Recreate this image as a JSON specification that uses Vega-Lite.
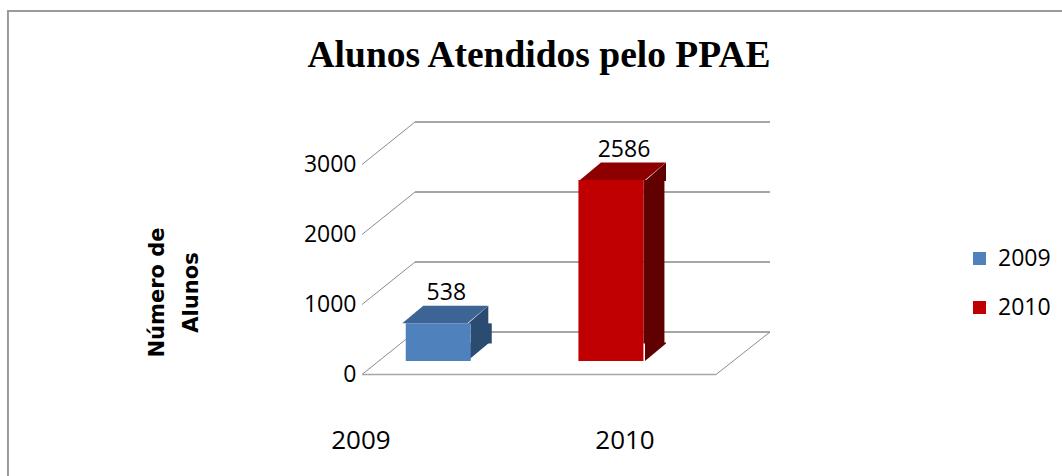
{
  "$schema": "https://vega.github.io/schema/vega-lite/v6.json",
  "width": 354,
  "height": 210,
  "autosize": {"type": "none"},
  "padding": {"left": 380, "top": 151, "right": 328, "bottom": 115},
  "background": "white",
  "config": {"view": {"stroke": null}, "font": "Open Sans"},
  "title": {
    "text": "Alunos Atendidos pelo PPAE",
    "font": "Liberation Serif",
    "fontSize": 37.5,
    "fontWeight": "bold",
    "color": "black",
    "anchor": "middle",
    "dx": -18,
    "baseline": "alphabetic",
    "offset": -94.4
  },
  "datasets": {
    "students": [{"year": 2009, "alunos": 538}, {"year": 2010, "alunos": 2586}],
    "grid": [{"level": 0}, {"level": 1000}, {"level": 2000}, {"level": 3000}],
    "one": [{}]
  },
  "resolve": {"scale": {"x": "independent", "color": "independent"}},
  "layer": [
    {
      "data": {"name": "grid"},
      "mark": {"type": "rule", "stroke": "#a6a6a6", "strokeWidth": 2, "xOffset": 35, "x2Offset": 36, "yOffset": -29},
      "encoding": {
        "x": {"datum": 2008.6916, "type": "quantitative", "scale": {"domain": [2008.6916, 2010.6837], "nice": false, "zero": false}, "axis": null},
        "x2": {"datum": 2010.6837},
        "y": {
          "field": "level",
          "type": "quantitative",
          "scale": {"domain": [0, 3000], "nice": false},
          "axis": {
            "title": ["Número de", "Alunos"],
            "titleFont": "DejaVu Sans",
            "titleFontSize": 21,
            "titleFontWeight": "bold",
            "titleColor": "black",
            "titleAngle": -90,
            "titleAlign": "center",
            "titleBaseline": "middle",
            "titleLineHeight": 34,
            "titleX": -223,
            "titleY": 141,
            "values": [0, 1000, 2000, 3000],
            "format": "d",
            "domain": false,
            "ticks": false,
            "grid": false,
            "labelFont": "Open Sans",
            "labelFontSize": 23,
            "labelColor": "black",
            "labelPadding": 24,
            "labelOffset": 13.5,
            "labelFlush": false,
            "labelOverlap": false
          }
        }
      }
    },
    {
      "data": {"name": "one"},
      "mark": {"type": "rect", "fillOpacity": 0, "stroke": "#9a9a9a", "strokeWidth": 2},
      "encoding": {
        "x": {"datum": 2006.598, "type": "quantitative", "scale": {"domain": [2008.6916, 2010.6837], "nice": false, "zero": false}, "axis": null},
        "x2": {"datum": 2012.6},
        "y": {"datum": 5000, "type": "quantitative"},
        "y2": {"datum": -2000}
      }
    },
    {
      "data": {"name": "grid"},
      "mark": {"type": "rule", "stroke": "#8c8c8c", "strokeWidth": 1, "xOffset": -18, "x2Offset": 35, "yOffset": 13.5, "y2Offset": -29},
      "encoding": {
        "x": {"datum": 2008.6916, "type": "quantitative", "scale": {"domain": [2008.6916, 2010.6837], "nice": false, "zero": false}, "axis": null},
        "x2": {"datum": 2008.6916},
        "y": {"field": "level", "type": "quantitative"},
        "y2": {"field": "level"}
      }
    },
    {
      "data": {"name": "one"},
      "mark": {"type": "rule", "stroke": "#a6a6a6", "strokeWidth": 1.5, "xOffset": -18, "x2Offset": -18, "yOffset": 13.5},
      "encoding": {
        "x": {"datum": 2008.6916, "type": "quantitative", "scale": {"domain": [2008.6916, 2010.6837], "nice": false, "zero": false}, "axis": null},
        "x2": {"datum": 2010.6837},
        "y": {"datum": 0, "type": "quantitative"}
      }
    },
    {
      "data": {"name": "one"},
      "mark": {"type": "rule", "stroke": "#8c8c8c", "strokeWidth": 1, "xOffset": -18, "x2Offset": 36, "yOffset": 13.5, "y2Offset": -29},
      "encoding": {
        "x": {"datum": 2010.6837, "type": "quantitative", "scale": {"domain": [2008.6916, 2010.6837], "nice": false, "zero": false}, "axis": null},
        "x2": {"datum": 2010.6837},
        "y": {"datum": 0, "type": "quantitative"},
        "y2": {"datum": 0}
      }
    },
    {
      "data": {"name": "students"},
      "mark": {"type": "bar", "width": 21, "xOffset": 43, "y2Offset": -17.5},
      "encoding": {
        "x": {"field": "year", "type": "quantitative", "scale": {"domain": [2008.6916, 2010.6837], "nice": false, "zero": false}, "axis": null},
        "y": {"field": "alunos", "type": "quantitative"},
        "y2": {"datum": 0},
        "color": {"field": "year", "type": "nominal", "scale": {"domain": [2009, 2010], "range": ["#2c4b70", "#600000"]}, "legend": null}
      }
    },
    {
      "data": {"name": "students"},
      "mark": {"type": "point", "shape": "M0.65,0.02L1.07,-0.35L1.07,0.02Z", "size": 10000, "filled": true, "opacity": 1, "strokeWidth": 0},
      "encoding": {
        "x": {"field": "year", "type": "quantitative", "scale": {"domain": [2008.6916, 2010.6837], "nice": false, "zero": false}, "axis": null},
        "y": {"field": "alunos", "type": "quantitative"},
        "color": {"field": "year", "type": "nominal", "scale": {"domain": [2009, 2010], "range": ["#2c4b70", "#600000"]}, "legend": null}
      }
    },
    {
      "data": {"name": "students"},
      "mark": {"type": "point", "shape": "M0.65,-0.37L1.07,-0.37L1.07,-0.35L0.65,0Z", "size": 10000, "filled": true, "opacity": 1, "strokeWidth": 0},
      "encoding": {
        "x": {"field": "year", "type": "quantitative", "scale": {"domain": [2008.6916, 2010.6837], "nice": false, "zero": false}, "axis": null},
        "y": {"datum": 0, "type": "quantitative"},
        "color": {"field": "year", "type": "nominal", "scale": {"domain": [2009, 2010], "range": ["#2c4b70", "#600000"]}, "legend": null}
      }
    },
    {
      "data": {"name": "students"},
      "mark": {"type": "point", "shape": "M-0.65,0L0.65,0L1.07,-0.35L-0.23,-0.35Z", "size": 10000, "filled": true, "opacity": 1, "strokeWidth": 0},
      "encoding": {
        "x": {"field": "year", "type": "quantitative", "scale": {"domain": [2008.6916, 2010.6837], "nice": false, "zero": false}, "axis": null},
        "y": {"field": "alunos", "type": "quantitative"},
        "color": {"field": "year", "type": "nominal", "scale": {"domain": [2009, 2010], "range": ["#3c6494", "#8e0000"]}, "legend": null}
      }
    },
    {
      "data": {"name": "students"},
      "mark": {"type": "bar", "width": 65},
      "encoding": {
        "x": {"field": "year", "type": "quantitative", "scale": {"domain": [2008.6916, 2010.6837], "nice": false, "zero": false}, "axis": null},
        "y": {"field": "alunos", "type": "quantitative"},
        "y2": {"datum": 0},
        "color": {
          "field": "year",
          "type": "nominal",
          "scale": {"domain": [2009, 2010], "range": ["#4f81bd", "#c00000"]},
          "legend": {
            "title": null,
            "orient": "none",
            "legendX": 588,
            "legendY": 96,
            "symbolType": "square",
            "symbolSize": 169,
            "symbolStrokeWidth": 0,
            "labelFont": "Open Sans",
            "labelFontSize": 23,
            "labelColor": "black",
            "labelOffset": 7,
            "rowPadding": 25
          }
        }
      }
    },
    {
      "data": {"name": "students"},
      "mark": {"type": "text", "font": "Open Sans", "fontSize": 23, "color": "black", "dx": 11.5, "dy": -30, "baseline": "middle", "align": "center"},
      "encoding": {
        "x": {"field": "year", "type": "quantitative", "scale": {"domain": [2008.6916, 2010.6837], "nice": false, "zero": false}, "axis": null},
        "y": {"field": "alunos", "type": "quantitative"},
        "text": {"field": "alunos", "type": "quantitative", "format": "d"}
      }
    },
    {
      "data": {"name": "students"},
      "mark": {"type": "text", "font": "Open Sans", "fontSize": 26, "color": "black", "baseline": "middle", "align": "center"},
      "encoding": {
        "x": {"field": "year", "type": "quantitative", "scale": {"domain": [2009.072, 2010.41288], "nice": false, "zero": false}, "axis": null},
        "y": {"datum": -1140, "type": "quantitative"},
        "text": {"field": "year", "type": "quantitative", "format": "d"}
      }
    }
  ]
}
